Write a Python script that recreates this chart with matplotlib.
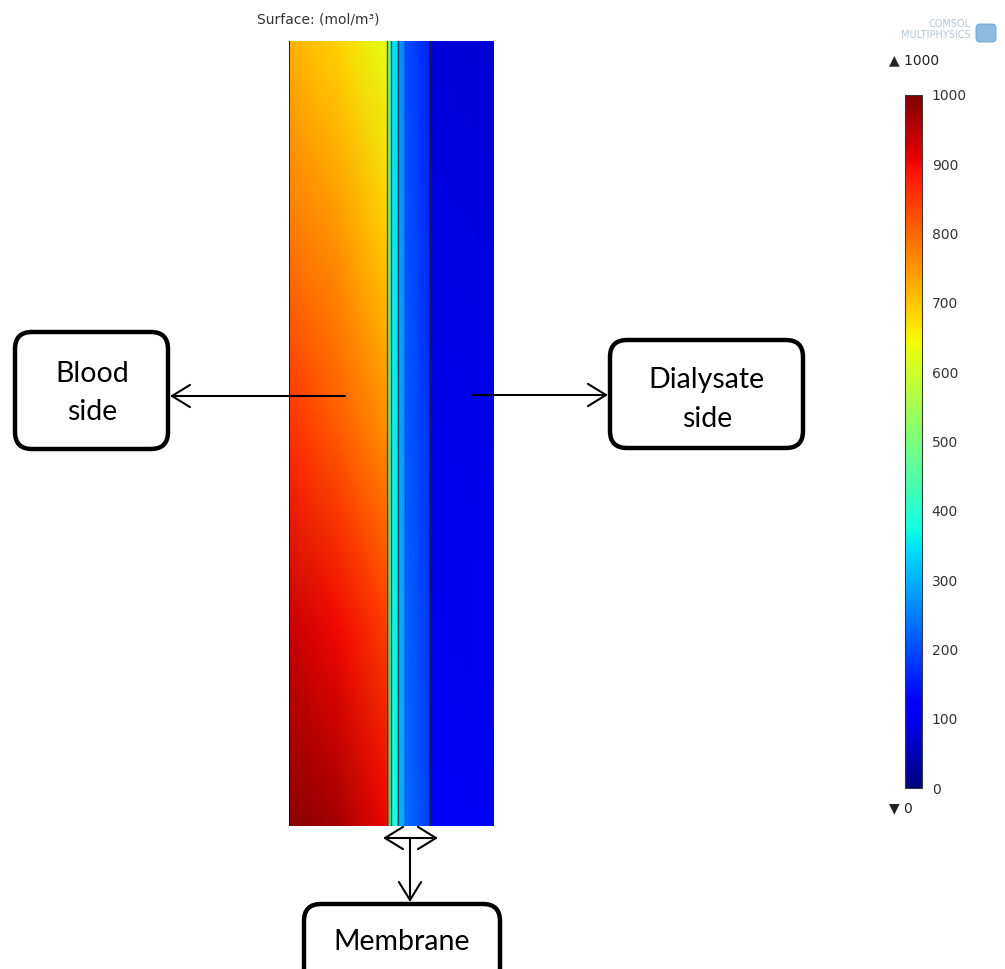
import numpy as np
import matplotlib
matplotlib.use("Agg")
import matplotlib.pyplot as plt
from matplotlib.patches import FancyBboxPatch
from matplotlib.colors import Normalize
from matplotlib.cm import ScalarMappable

# ---- concentration field (mol/m^3) -------------------------------------
# x positions of the sampled columns across the channel (um), from the
# blood side through the membrane layers to the dialysate side
x_nodes = [0, 49, 97.5, 97.5, 102, 102, 109, 109, 116, 116, 141, 141, 205]
# sampled heights along the module (um), bottom to top
y_levels = [0, 196, 392, 589, 785]

# concentration at each column, listed bottom -> top
blood_outer   = [990, 935, 860, 785, 720]
blood_center  = [965, 900, 815, 750, 685]
blood_wall    = [905, 845, 760, 695, 625]
membrane_in   = [895, 835, 750, 688, 615]
membrane_out  = [470, 470, 465, 455, 445]
support_in    = [400, 390, 380, 370, 360]
support_out   = [365, 355, 345, 335, 325]
porous_in     = [310, 305, 298, 290, 280]
porous_out    = [285, 278, 270, 262, 252]
channel_in    = [235, 228, 220, 212, 205]
channel_out   = [185, 178, 170, 162, 155]
dialysate_in  = [108, 100, 94, 88, 82]
dialysate_out = [104, 96, 90, 84, 78]

columns = [blood_outer, blood_center, blood_wall, membrane_in, membrane_out,
           support_in, support_out, porous_in, porous_out, channel_in,
           channel_out, dialysate_in, dialysate_out]

# internal geometry edges (um)
edges_dark = [97.5, 102, 109, 141]
edges_faint = [116]

cbar_ticks = list(range(0, 1001, 100))
c_min, c_max = 0, 1000

# ---- figure ----------------------------------------------------------------
W, H = 1005, 969
fig = plt.figure(figsize=(W / 100, H / 100), dpi=100)
fig.patch.set_facecolor("white")

ax = fig.add_axes([289 / W, (H - 826) / H, 205 / W, 785 / H])
X, Y = np.meshgrid(x_nodes, y_levels)
C = np.array(columns).T
ax.pcolormesh(X, Y, C, shading="gouraud", cmap="jet", vmin=c_min, vmax=c_max)
ax.set_xlim(x_nodes[0], x_nodes[-1])
ax.set_ylim(y_levels[0], y_levels[-1])
ax.axis("off")
ax.axvline(x_nodes[0] + 0.4, color="black", lw=1.2)
for xe in edges_dark:
    ax.axvline(xe, color="#1c2430", lw=1.0, alpha=0.75)
for xe in edges_faint:
    ax.axvline(xe, color="#1c2430", lw=0.8, alpha=0.25)

# colour legend
cax = fig.add_axes([905 / W, (H - 788) / H, 17 / W, 693 / H])
sm = ScalarMappable(norm=Normalize(c_min, c_max), cmap="jet")
cb = fig.colorbar(sm, cax=cax, ticks=cbar_ticks)
cb.ax.tick_params(length=0, labelsize=10, labelcolor="#333333", pad=7)
cb.outline.set_edgecolor("#3a3a3a")
cb.outline.set_linewidth(0.8)

# ---- overlay in pixel coordinates for labels and callouts -------------------
ov = fig.add_axes([0, 0, 1, 1], zorder=5)
ov.set_xlim(0, W)
ov.set_ylim(H, 0)
ov.axis("off")
ov.patch.set_alpha(0)

ov.text(257, 19, "Surface: (mol/m³)", fontsize=10, color="#333333",
        ha="left", va="center", family="DejaVu Sans")

ov.text(889, 60, "▲ 1000", fontsize=10, color="#222222", ha="left",
        va="center", family="DejaVu Sans")
ov.text(889, 808, "▼ 0", fontsize=10, color="#222222", ha="left",
        va="center", family="DejaVu Sans")

# software mark
ov.text(971, 24, "COMSOL", fontsize=7, color="#b4c6d4", ha="right",
        va="center", family="DejaVu Sans")
ov.text(971, 35, "MULTIPHYSICS", fontsize=7, color="#b4c6d4", ha="right",
        va="center", family="DejaVu Sans")
ov.add_patch(FancyBboxPatch((976, 24), 20, 18,
                            boxstyle="round,pad=0,rounding_size=4",
                            fc="#8dbbe0", ec="#6d9fc8", lw=0.6))

# callout boxes
box_kw = dict(boxstyle="round,pad=0,rounding_size=17", lw=3.2,
              ec="black", fc="white", zorder=6)
ov.add_patch(FancyBboxPatch((15, 332), 153, 117, **box_kw))
ov.add_patch(FancyBboxPatch((610, 340), 193, 108, **box_kw))
ov.add_patch(FancyBboxPatch((304, 904), 196, 90, **box_kw))

txt_kw = dict(fontsize=20.5, family="Lato", color="black", ha="center",
              va="baseline", zorder=7)
ov.text(92, 382, "Blood", **txt_kw)
ov.text(92, 420, "side", **txt_kw)
ov.text(706, 388, "Dialysate", **txt_kw)
ov.text(707, 427, "side", **txt_kw)
ov.text(402, 950, "Membrane", **txt_kw)

arrow_kw = dict(arrowstyle="->,head_length=1.3,head_width=0.8",
                mutation_scale=10, lw=1.5, color="black",
                shrinkA=0, shrinkB=0)
ov.annotate("", xy=(170, 396), xytext=(345, 396), arrowprops=arrow_kw,
            zorder=8)
ov.annotate("", xy=(608, 395), xytext=(472, 395), arrowprops=arrow_kw,
            zorder=8)
dbl_kw = dict(arrow_kw, arrowstyle="<->,head_length=1.3,head_width=0.8")
ov.annotate("", xy=(438, 838), xytext=(383, 838), arrowprops=dbl_kw,
            zorder=8)
ov.annotate("", xy=(410, 902), xytext=(410, 838), arrowprops=arrow_kw,
            zorder=8)

fig.savefig("out.png", dpi=100)
